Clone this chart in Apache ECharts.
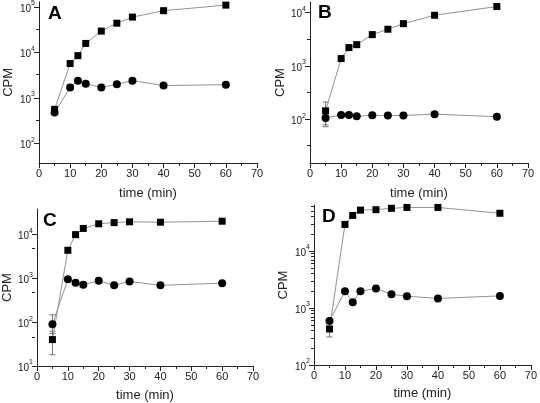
<!DOCTYPE html>
<html>
<head>
<meta charset="utf-8">
<script src="https://cdn.jsdelivr.net/npm/echarts@6/dist/echarts.min.js"></script>
<style>
html,body{margin:0;padding:0;background:#fff;}
#chart{width:540px;height:403px;}
</style>
</head>
<body>
<div id="chart"></div>
<script>
// ---- data ----
const times = [5, 10, 12.5, 15, 20, 25, 30, 40, 60];
const xTicks = [0, 10, 20, 30, 40, 50, 60, 70];

const aSquares = [560, 5700, 8500, 15800, 29500, 44000, 60000, 83000, 110000];
const aCircles = [480, 1700, 2400, 2050, 1700, 2000, 2400, 1870, 1960];
const bSquares = [143, 1370, 2200, 2500, 3860, 4870, 6200, 8900, 13000];
const bCircles = [105, 120, 120, 113, 118, 117, 117, 124, 111];
const cSquares = [40, 4350, 9900, 13700, 17500, 18600, 19400, 19000, 20000];
const cCircles = [89, 945, 790, 716, 880, 690, 850, 690, 775];
const dSquares = [428, 29200, 42000, 52000, 53000, 56000, 58000, 58000, 45800];
const dCircles = [590, 1970, 1260, 1970, 2200, 1740, 1610, 1470, 1630];

// error bars: [time, low, high]
const aErr = [];
const bErr = [[5, 78, 210], [5, 72, 140], [20, 106, 130], [40, 112, 138]];
const cErr = [[5, 55, 147], [5, 18, 62]];
const dErr = [[5, 310, 560]];

// y-axis ticks
const aMajor = [100, 1000, 10000, 100000];
const bMajor = [100, 1000, 10000];
const cMajor = [10, 100, 1000, 10000];
const dMajor = [100, 1000, 10000];
const aMinor = [316.2, 3162, 31623];
const bMinor = [31.62, 316.2, 3162];
const cMinor = [50, 500, 5000];
const dMinor = [200, 300, 400, 500, 600, 700, 800, 900, 2000, 3000, 4000, 5000, 6000, 7000, 8000, 9000, 20000, 30000, 40000, 50000, 60000];

const panelLetters = ['A', 'B', 'C', 'D'];
const yRanges = [[37, 130000], [15, 15800], [10, 38000], [100, 64000]];

// ---- layout ----
const grids = [
  {left: 39, top: 1, width: 218, height: 162},
  {left: 310, top: 2, width: 218, height: 161},
  {left: 35, top: 209, width: 218, height: 159},
  {left: 314, top: 205, width: 218, height: 160}
];
const letterPos = [[55, 14], [325, 13], [50, 221], [329, 217]];
const nameGapsY = [24, 23, 23, 24];
const nameGapsX = [24, 24, 23, 22];

const panels = [
  {sq: aSquares, ci: aCircles, err: aErr, major: aMajor, minor: aMinor},
  {sq: bSquares, ci: bCircles, err: bErr, major: bMajor, minor: bMinor},
  {sq: cSquares, ci: cCircles, err: cErr, major: cMajor, minor: cMinor},
  {sq: dSquares, ci: dCircles, err: dErr, major: dMajor, minor: dMinor}
];

const FONT = 'Liberation Sans, Arial, sans-serif';
const axisCol = '#222';

function supFormatter(v) {
  const e = Math.round(Math.log10(v));
  if (Math.abs(Math.log10(v) - e) > 1e-6) return '';
  return '{b|10}{s|' + e + '}';
}

function renderErr(params, api) {
  const x = api.value(0), lo = api.value(1), hi = api.value(2);
  const p1 = api.coord([x, lo]);
  const p2 = api.coord([x, hi]);
  const w = 3;
  const st = {stroke: '#777', lineWidth: 1};
  return {
    type: 'group',
    children: [
      {type: 'line', shape: {x1: p1[0], y1: p1[1], x2: p2[0], y2: p2[1]}, style: st},
      {type: 'line', shape: {x1: p1[0] - w, y1: p1[1], x2: p1[0] + w, y2: p1[1]}, style: st},
      {type: 'line', shape: {x1: p2[0] - w, y1: p2[1], x2: p2[0] + w, y2: p2[1]}, style: st}
    ]
  };
}

const option = {
  animation: false,
  backgroundColor: '#fff',
  // grids 0-3: the panels; grids 4-7: same rectangles, only for the short minor y ticks
  grid: grids.concat(grids.map(function (g) { return Object.assign({}, g); })),
  xAxis: [],
  yAxis: [],
  series: [],
  graphic: []
};

panels.forEach(function (p, i) {
  option.xAxis.push({
    type: 'value', gridIndex: i, min: 0, max: 70, interval: 10,
    name: 'time (min)', nameLocation: 'middle', nameGap: nameGapsX[i],
    nameTextStyle: {fontFamily: FONT, fontSize: 13, fontWeight: 'normal', color: axisCol},
    axisLine: {show: true, onZero: false, lineStyle: {color: axisCol, width: 1}},
    axisTick: {show: true, inside: false, length: 5, lineStyle: {color: axisCol}},
    minorTick: {show: true, splitNumber: 2, length: 3, lineStyle: {color: axisCol}},
    axisLabel: {fontFamily: FONT, fontSize: 11, color: axisCol, margin: 5},
    splitLine: {show: false}
  });
  option.yAxis.push({
    type: 'log', logBase: 10, gridIndex: i, position: 'left',
    min: yRanges[i][0], max: yRanges[i][1],
    name: 'CPM', nameLocation: 'middle', nameGap: nameGapsY[i],
    nameTextStyle: {fontFamily: FONT, fontSize: 13, fontWeight: 'normal', color: axisCol},
    axisLine: {show: true, onZero: false, lineStyle: {color: axisCol, width: 1}},
    axisTick: {show: true, inside: false, length: 5, customValues: p.major, lineStyle: {color: axisCol}},
    axisLabel: {
      customValues: p.major, margin: 4, formatter: supFormatter,
      rich: {
        b: {fontFamily: FONT, fontSize: 10, color: axisCol, lineHeight: 14, verticalAlign: 'bottom'},
        s: {fontFamily: FONT, fontSize: 7, color: axisCol, lineHeight: 8, verticalAlign: 'top'}
      }
    },
    minorTick: {show: false},
    splitLine: {show: false}
  });
});

// minor-tick axes in the overlay grids
panels.forEach(function (p, i) {
  option.xAxis.push({
    type: 'value', gridIndex: 4 + i, min: 0, max: 70, show: false
  });
  option.yAxis.push({
    type: 'log', logBase: 10, gridIndex: 4 + i, position: 'left',
    min: yRanges[i][0], max: yRanges[i][1],
    axisLine: {show: false},
    axisTick: {show: true, inside: false, length: 3, customValues: p.minor, lineStyle: {color: axisCol}},
    axisLabel: {show: false},
    minorTick: {show: false},
    splitLine: {show: false}
  });
});

panels.forEach(function (p, i) {
  const lineStyle = {color: '#939393', width: 1};
  option.series.push({
    type: 'custom', xAxisIndex: i, yAxisIndex: i,
    renderItem: renderErr, encode: {x: 0, y: [1, 2]},
    data: p.err, z: 1
  });
  option.series.push({
    type: 'line', xAxisIndex: i, yAxisIndex: i,
    data: times.map(function (t, k) { return [t, p.sq[k]]; }),
    symbol: 'rect', symbolSize: 7, showAllSymbol: true,
    itemStyle: {color: '#000'}, lineStyle: lineStyle, z: 3
  });
  option.series.push({
    type: 'line', xAxisIndex: i, yAxisIndex: i,
    data: times.map(function (t, k) { return [t, p.ci[k]]; }),
    symbol: 'circle', symbolSize: 8, showAllSymbol: true,
    itemStyle: {color: '#000'}, lineStyle: lineStyle, z: 3
  });
  option.graphic.push({
    type: 'text', left: letterPos[i][0] - 7, top: letterPos[i][1] - 10,
    style: {text: panelLetters[i], font: 'bold 19px ' + FONT, fill: '#000'}
  });
});

const chart = echarts.init(document.getElementById('chart'), null, {renderer: 'canvas'});
chart.setOption(option);
</script>
</body>
</html>
